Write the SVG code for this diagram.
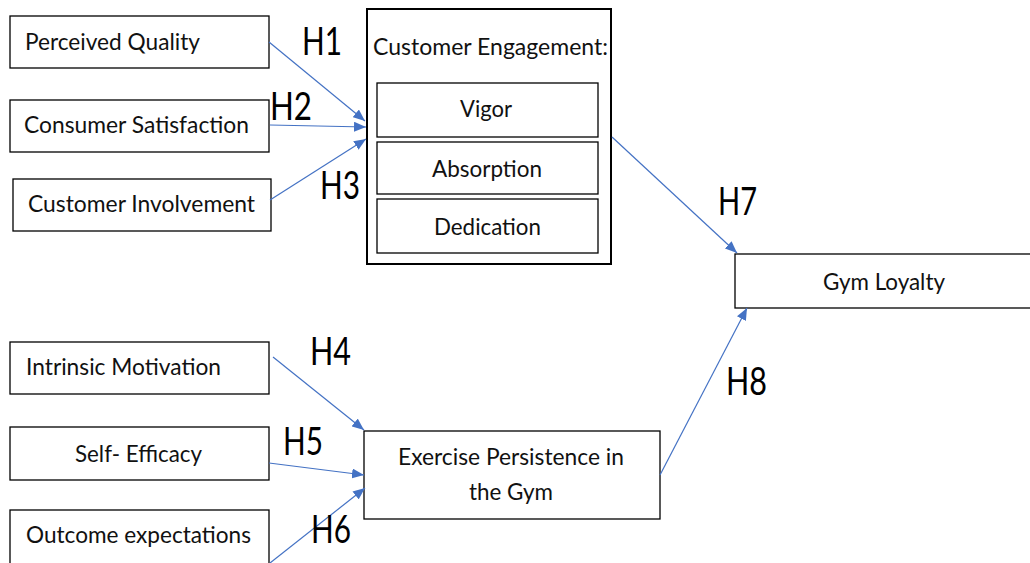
<svg xmlns="http://www.w3.org/2000/svg" width="1030" height="563" viewBox="0 0 1030 563">
  <style>
    .box { fill: #ffffff; stroke: #000000; stroke-width: 1.3; }
    .outer { fill: #ffffff; stroke: #000000; stroke-width: 2; }
    .lbl { font-family: Lato, "Liberation Sans", sans-serif; font-size: 24px; fill: #111111; }
    .hyp { font-family: Lato, "Liberation Sans", sans-serif; font-size: 39px; fill: #000000; }
    .link { stroke: #4472C4; stroke-width: 1.2; fill: none; marker-end: url(#arrow); }
  </style>
  <defs>
    <marker id="arrow" viewBox="0 0 12 10" refX="12" refY="5" markerWidth="12" markerHeight="10" markerUnits="userSpaceOnUse" orient="auto">
      <path d="M0,0 L12,5 L0,10 Z" fill="#4472C4"/>
    </marker>
  </defs>
  <rect width="1030" height="563" fill="#ffffff"/>

  <!-- predictors of engagement -->
  <g id="perceived-quality">
    <rect class="box" x="10" y="16" width="259" height="52"/>
    <text class="lbl" x="25" y="50" textLength="175" lengthAdjust="spacingAndGlyphs">Perceived Quality</text>
  </g>
  <g id="consumer-satisfaction">
    <rect class="box" x="10" y="100" width="259" height="52"/>
    <text class="lbl" x="24" y="133" textLength="225" lengthAdjust="spacingAndGlyphs">Consumer Satisfaction</text>
  </g>
  <g id="customer-involvement">
    <rect class="box" x="13" y="179" width="258" height="52"/>
    <text class="lbl" x="28" y="212" textLength="227" lengthAdjust="spacingAndGlyphs">Customer Involvement</text>
  </g>

  <!-- engagement construct with its three dimensions -->
  <g id="customer-engagement">
    <rect class="outer" x="367" y="9" width="244" height="255"/>
    <text class="lbl" x="373" y="55" textLength="235" lengthAdjust="spacingAndGlyphs">Customer Engagement:</text>
    <rect class="box" x="377" y="83" width="221" height="54"/>
    <text class="lbl" x="460" y="117" textLength="52" lengthAdjust="spacingAndGlyphs">Vigor</text>
    <rect class="box" x="377" y="142" width="221" height="52"/>
    <text class="lbl" x="432" y="177" textLength="110" lengthAdjust="spacingAndGlyphs">Absorption</text>
    <rect class="box" x="377" y="199" width="221" height="54"/>
    <text class="lbl" x="434" y="235" textLength="107" lengthAdjust="spacingAndGlyphs">Dedication</text>
  </g>

  <!-- outcome -->
  <g id="gym-loyalty">
    <rect class="box" x="735" y="254" width="300" height="54"/>
    <text class="lbl" x="823" y="290" textLength="122" lengthAdjust="spacingAndGlyphs">Gym Loyalty</text>
  </g>

  <!-- predictors of persistence -->
  <g id="intrinsic-motivation">
    <rect class="box" x="10" y="342" width="259" height="52"/>
    <text class="lbl" x="26" y="375" textLength="195" lengthAdjust="spacingAndGlyphs">Intrinsic Motivation</text>
  </g>
  <g id="self-efficacy">
    <rect class="box" x="10" y="427" width="259" height="53"/>
    <text class="lbl" x="75" y="462" textLength="127" lengthAdjust="spacingAndGlyphs">Self- Efficacy</text>
  </g>
  <g id="outcome-expectations">
    <rect class="box" x="10" y="510" width="259" height="60"/>
    <text class="lbl" x="26" y="543" textLength="225" lengthAdjust="spacingAndGlyphs">Outcome expectations</text>
  </g>

  <g id="exercise-persistence">
    <rect class="box" x="364" y="431" width="296" height="88"/>
    <text class="lbl" x="398" y="465" textLength="226" lengthAdjust="spacingAndGlyphs">Exercise Persistence in</text>
    <text class="lbl" x="469" y="500" textLength="84" lengthAdjust="spacingAndGlyphs">the Gym</text>
  </g>

  <!-- hypothesis paths -->
  <g id="connectors">
    <line class="link" x1="269" y1="42" x2="365" y2="121"/>
    <line class="link" x1="270" y1="125" x2="366" y2="127"/>
    <line class="link" x1="270" y1="200" x2="366" y2="139"/>
    <line class="link" x1="612" y1="137" x2="737" y2="253"/>
    <line class="link" x1="273" y1="357" x2="364" y2="430"/>
    <line class="link" x1="269" y1="463" x2="364" y2="475"/>
    <line class="link" x1="270" y1="563" x2="365" y2="488"/>
    <line class="link" x1="660" y1="475" x2="747" y2="308"/>
  </g>

  <!-- hypothesis labels -->
  <g id="hypotheses">
    <text class="hyp" x="302" y="55" textLength="40" lengthAdjust="spacingAndGlyphs">H1</text>
    <text class="hyp" x="270" y="120" textLength="42" lengthAdjust="spacingAndGlyphs">H2</text>
    <text class="hyp" x="320" y="199" textLength="40" lengthAdjust="spacingAndGlyphs">H3</text>
    <text class="hyp" x="310" y="365" textLength="41" lengthAdjust="spacingAndGlyphs">H4</text>
    <text class="hyp" x="283" y="455" textLength="40" lengthAdjust="spacingAndGlyphs">H5</text>
    <text class="hyp" x="311" y="543" textLength="40" lengthAdjust="spacingAndGlyphs">H6</text>
    <text class="hyp" x="718" y="215" textLength="39" lengthAdjust="spacingAndGlyphs">H7</text>
    <text class="hyp" x="726" y="395" textLength="41" lengthAdjust="spacingAndGlyphs">H8</text>
  </g>
</svg>
